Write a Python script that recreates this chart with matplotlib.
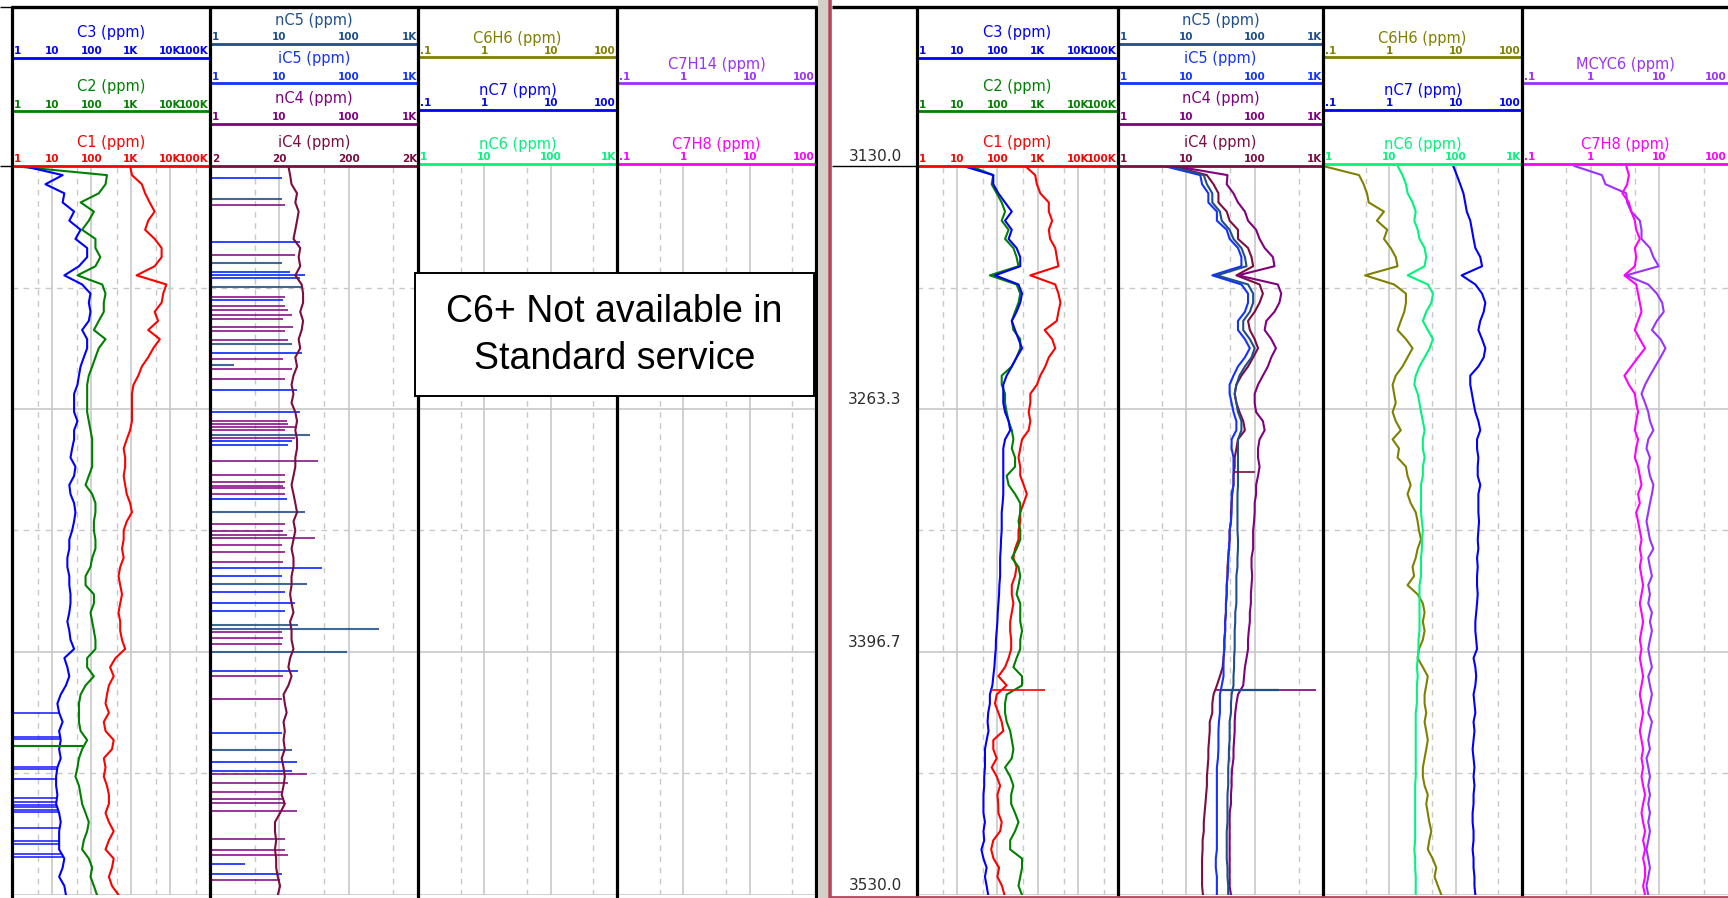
import numpy as np
import matplotlib
matplotlib.use("Agg")
import matplotlib.pyplot as plt
from matplotlib.lines import Line2D
from matplotlib.patches import Rectangle

# depth of every curve sample (m), one reading every 5 m
DEPTH = np.arange(3130.0, 3530.1, 5.0)
DEPTH_LABELS = [3130.0, 3263.3, 3396.7, 3530.0]

# ---------------- standard service log (left) ----------------
L_C1 = [960, 1070, 1900, 2300, 3000, 4000, 2750, 2300, 4000, 6000,
        6000, 4000, 1400, 7900, 6600, 6000, 4000, 4900, 2750, 5400,
        3700, 2750, 1900, 1550, 1170, 1070, 1070, 1070, 1070, 960,
        790, 660, 720, 720, 660, 720, 790, 960, 1070, 790,
        660, 660, 600, 660, 540, 490, 540, 600, 540, 490,
        540, 540, 600, 720, 410, 300, 370, 280, 250, 230,
        280, 208, 230, 370, 335, 208, 230, 208, 250, 280,
        280, 230, 280, 370, 280, 230, 370, 335, 280, 335,
        490]
L_C2 = [1, 250, 230, 155, 54, 117, 87, 59, 128, 128,
        170, 128, 45, 190, 230, 208, 208, 155, 117, 230,
        155, 128, 106, 87, 79, 79, 79, 79, 87, 96,
        106, 106, 106, 106, 87, 72, 106, 128, 128, 117,
        117, 128, 128, 106, 96, 72, 72, 117, 117, 96,
        106, 117, 128, 128, 79, 79, 117, 72, 54, 49,
        49, 49, 54, 79, 59, 49, 45, 40, 49, 54,
        59, 72, 87, 79, 65, 59, 87, 106, 96, 117,
        140]
L_C3 = [1.9, 19, 7, 21, 19, 37, 28, 54, 40, 79,
        79, 49, 21, 59, 96, 87, 96, 87, 59, 79,
        79, 65, 54, 49, 45, 37, 37, 37, 45, 37,
        37, 33, 30, 40, 37, 28, 30, 37, 40, 37,
        33, 28, 28, 25, 25, 28, 28, 30, 30, 28,
        25, 28, 30, 37, 21, 25, 28, 23, 17, 14,
        15.5, 19, 15.5, 17, 15.5, 17, 14, 13, 13, 14,
        13, 15.5, 17, 15.5, 15.5, 15.5, 21, 19, 15.5, 21,
        23]
L_IC4 = [27, 28.6, 30, 36, 34, 38, 36, 34, 32, 40,
         38, 40, 34, 42, 44, 44, 40, 44, 42, 38,
         40, 34, 36, 32, 30, 32, 30, 34, 36, 34,
         36, 36, 34, 34, 32, 30, 32, 34, 36, 32,
         34, 32, 30, 32, 32, 30, 30, 28.6, 30, 32,
         28.6, 30, 30, 32, 28.6, 27, 30, 27, 23, 24,
         25.5, 23, 24, 23, 24, 21.6, 23, 24, 23, 21.6,
         24, 20.5, 17.3, 17.3, 18, 17.3, 18, 18, 19, 20.5,
         19]

# C3 / C2 sample dropouts (readings below 1 ppm)
L_C3_DROP = [3430.3, 3443.5, 3444.6, 3459.6, 3460.9, 3466.5, 3476.9, 3479.1,
             3480.6, 3481.9, 3483.3, 3484.6, 3493.4, 3500.2, 3502.0, 3507.5, 3509.0]
L_C2_DROP = [3448.1]

# nC4 / iC5 / nC5 only show isolated readings in the standard service
L_NC4_SPIKE_D = [3151.4, 3178.7, 3201.7, 3206.6, 3208.9, 3211.5, 3214.1, 3218.5,
                 3220.8, 3225.4, 3235.7, 3241.4, 3246.8, 3269.8, 3271.8, 3273.4,
                 3274.9, 3279.3, 3291.7, 3299.7, 3303.3, 3305.6, 3306.9, 3310.0,
                 3326.5, 3330.1, 3332.7, 3334.3, 3337.9, 3342.0, 3347.2, 3385.8,
                 3388.9, 3392.5, 3410.1, 3422.5, 3463.7, 3468.4, 3473.5, 3477.1,
                 3479.7, 3483.8, 3499.3, 3505.5, 3508.1, 3521.5]
L_NC4_SPIKE_PPM = [12.1, 16.9, 12.1, 12.1, 13.5, 15.1, 11.4, 16,
                   12.1, 13.5, 11.4, 15.1, 12.1, 12.8, 13.5, 16.9,
                   12.1, 16.9, 36, 12.1, 12.1, 11.4, 12.1, 12.1,
                   12.1, 11.4, 12.8, 32.9, 10.8, 12.1, 11.4, 10.8,
                   11.4, 10.8, 11.4, 10.8, 24.9, 13.5, 11.4, 11.4,
                   12.1, 17.8, 12.1, 12.1, 13.5, 10.2]
L_IC5_SPIKE_D = [3136.7, 3171.8, 3188.3, 3189.6, 3191.4, 3203.5, 3232.4, 3253.0,
                 3265.1, 3281.1, 3283.2, 3312.6, 3350.8, 3354.9, 3363.7, 3369.6,
                 3374.0, 3407.2, 3441.3, 3457.0, 3462.2, 3513.2, 3518.4]
L_IC5_SPIKE_PPM = [10.8, 19.9, 14.3, 23.5, 19.9, 11.4, 21, 17.8,
                   19.9, 15.1, 13.5, 12.8, 41, 10.8, 12.1, 16.9,
                   12.1, 18.8, 10.8, 17.8, 15.1, 3.2, 10.8]
L_NC5_SPIKE_D = [3148.3, 3183.4, 3196.5, 3227.7, 3239.1, 3277.8, 3319.8, 3359.3,
                 3381.7, 3383.8, 3396.7, 3450.3]
L_NC5_SPIKE_PPM = [10.8, 10.8, 22.3, 15.1, 2.2, 27.8, 23.5, 24.9,
                   18.8, 272, 95, 15.1]

# ---------------- advanced service log (right) ----------------
R_C1 = [490, 870, 960, 1170, 1900, 1900, 2300, 1900, 2050, 2750,
        3000, 3300, 660, 2750, 3300, 3700, 3300, 3000, 1500, 2300,
        2750, 1900, 1550, 1170, 960, 660, 660, 600, 660, 600,
        410, 370, 335, 370, 370, 450, 540, 450, 370, 370,
        335, 335, 275, 250, 300, 275, 228, 228, 250, 228,
        208, 208, 220, 220, 190, 155, 106, 170, 96, 87,
        106, 128, 140, 79, 79, 96, 72, 96, 117, 100,
        105, 106, 128, 117, 79, 70, 80, 110, 100, 130,
        150]
R_C2 = [21, 79, 72, 96, 128, 155, 128, 190, 155, 250,
        300, 335, 65, 300, 370, 335, 275, 228, 250, 370,
        370, 300, 228, 128, 128, 155, 155, 170, 190, 228,
        250, 228, 275, 275, 170, 190, 275, 370, 370, 335,
        370, 370, 300, 228, 335, 370, 335, 300, 370, 370,
        370, 410, 370, 370, 300, 250, 410, 410, 170, 155,
        155, 170, 208, 228, 250, 228, 155, 208, 250, 220,
        220, 275, 335, 275, 208, 208, 410, 410, 370, 335,
        410]
R_C3 = [14, 79, 79, 106, 155, 228, 155, 228, 190, 300,
        370, 370, 87, 335, 410, 370, 300, 228, 275, 335,
        410, 300, 228, 170, 140, 140, 140, 155, 190, 208,
        155, 140, 140, 140, 140, 140, 140, 135, 128, 128,
        128, 123, 121, 117, 117, 117, 112, 110, 106, 102,
        100, 96, 92, 91, 87, 84, 79, 75, 65, 65,
        59, 57, 60, 54, 49, 49, 49, 47, 47, 45,
        45, 45, 49, 45, 47, 40, 45, 54, 49, 54,
        59]
R_IC4 = [6.2, 20, 25, 29.5, 29.5, 39, 43, 57, 57, 80,
         90, 95, 54, 118, 132, 118, 100, 80, 85, 100,
         112, 95, 80, 64, 54, 51, 54, 60, 68, 72,
         57, 54, 51, 51, 49, 49, 47, 46, 45, 45,
         43, 43, 42, 41, 40, 40, 39, 39, 38, 38,
         37, 37, 36, 36, 35, 34, 31, 28, 25, 24,
         24, 22, 22, 21.5, 21, 21, 20.5, 20, 20, 19.5,
         19, 18.5, 18, 18, 17.3, 17.3, 17, 17, 17, 17,
         17.5]
R_NC4 = [6.6, 40, 39, 49, 57, 72, 80, 105, 118, 140,
         185, 195, 57, 218, 245, 230, 195, 148, 140, 175,
         205, 175, 156, 132, 112, 100, 100, 105, 132, 140,
         118, 112, 112, 118, 112, 105, 105, 100, 100, 98,
         95, 95, 95, 90, 90, 92, 90, 88, 88, 85,
         85, 82, 80, 80, 76, 72, 70, 68, 57, 54,
         52, 51, 51, 50, 49, 49, 47, 46, 46, 45,
         45, 43, 43, 43, 43, 43, 43, 43, 43, 43,
         45]
R_IC5 = [4.7, 16, 17, 21, 21, 28, 28, 39, 43, 57,
         64, 64, 24, 64, 80, 80, 72, 57, 57, 72,
         85, 72, 57, 49, 43, 43, 46, 49, 54, 54,
         46, 46, 49, 49, 49, 49, 46, 46, 46, 45,
         43, 43, 42, 41, 41, 40, 39, 39, 38, 38,
         37, 37, 36, 36, 35, 35, 35, 33, 31, 31,
         31, 30, 29.5, 29.5, 29.5, 29, 28, 28, 28, 28,
         28, 28, 28, 28, 28, 28, 27, 27, 28, 28,
         28]
R_NC5 = [5.5, 18, 20, 24, 24, 31, 33, 43, 49, 64,
         72, 76, 28, 80, 95, 95, 85, 68, 68, 85,
         100, 90, 72, 60, 54, 51, 54, 57, 64, 64,
         57, 57, 57, 57, 57, 57, 56, 56, 56, 56,
         56, 57, 57, 56, 56, 54, 54, 54, 54, 52,
         52, 51, 51, 51, 50, 50, 49, 49, 46, 45,
         45, 43, 43, 43, 42, 42, 41, 41, 41, 40,
         40, 40, 40, 39, 39, 39, 39, 40, 40, 41,
         41]
R_C6H6 = [0.1, 0.35, 0.41, 0.46, 0.49, 0.83, 0.65, 0.93, 0.83, 1.05,
          1.25, 1.33, 0.43, 1.18, 1.78, 1.78, 1.68, 1.49, 1.33, 1.78,
          2.24, 1.88, 1.58, 1.25, 1.12, 1.18, 1.25, 1.12, 1.25, 1.49,
          1.12, 1.4, 1.33, 1.78, 1.88, 2.1, 1.88, 2.1, 2.5, 2.67,
          2.8, 3.0, 2.67, 2.5, 2.24, 2.36, 1.88, 2.67, 3.2, 3.4,
          3.2, 3.4, 3.2, 2.8, 2.67, 3.2, 3.8, 3.6, 3.4, 3.4,
          3.6, 3.4, 3.6, 3.8, 3.6, 3.4, 3.2, 3.2, 3.4, 3.8,
          3.6, 3.8, 4.0, 4.3, 4.0, 3.8, 4.5, 5.1, 4.8, 5.4,
          6.1]
R_NC6 = [13.3, 15.8, 17.8, 18.9, 22.4, 25, 23.8, 26.8, 28.5, 34,
         36, 34, 18.9, 38, 45.5, 43, 36, 32, 38, 45.5,
         40.5, 34, 28.5, 25, 23.8, 26.8, 28.5, 30, 32, 34,
         32, 32, 34, 32, 32, 30, 30, 30, 30, 31,
         32, 31, 31, 30, 30, 30, 28.5, 28.5, 28.5, 28.5,
         28.5, 28.5, 27.5, 27.5, 26.8, 26, 26.8, 26, 26, 26,
         25, 25, 25, 25, 25, 25, 25, 25, 24.5, 24.5,
         24.5, 24.5, 24.5, 24.5, 24.5, 23.8, 24.5, 24.5, 25, 25,
         25]
R_NC7 = [9.2, 10.4, 11.7, 13.1, 13.9, 14.7, 16.6, 17.6, 18.6, 19.8,
         23.5, 25, 12.3, 19.8, 25, 28, 26.5, 23.5, 22, 25,
         28, 26.5, 22, 16.6, 16.6, 17.6, 18.6, 19.8, 22, 23.5,
         21, 21, 22, 21.5, 21.5, 23.5, 22, 22, 22, 22.5,
         22, 21.5, 22, 21, 21.5, 21, 21, 21.5, 21, 20.4,
         19.8, 19.8, 20.4, 21, 18.6, 19.8, 20.4, 19.8, 18.6, 19.2,
         19.8, 18.6, 19.2, 18.6, 18, 18.6, 19.2, 18.6, 19.2, 18.6,
         18.6, 18, 18, 18.6, 18.6, 18, 18.6, 18.6, 19.2, 19.2,
         19.8]
R_MCYC6 = [0.58, 1.46, 1.64, 3.3, 3.4, 3.9, 5.2, 5.5, 5.5, 7.3,
           8.2, 9.8, 3.3, 6.9, 9.2, 11, 11.6, 9.2, 7.8, 10.4,
           12.3, 10.4, 8.7, 7.3, 6.2, 5.5, 6.2, 6.9, 7.3, 8.2,
           6.9, 6.5, 7.3, 6.9, 7.3, 8.2, 7.8, 7.3, 6.9, 6.5,
           6.9, 7.3, 8.2, 6.9, 7.3, 7.8, 6.9, 7.3, 6.9, 7.8,
           7.3, 7.8, 7.3, 6.9, 7.3, 7.8, 6.9, 7.3, 7.8, 7.3,
           6.9, 7.8, 7.3, 6.9, 7.3, 6.5, 6.9, 7.3, 6.9, 7.3,
           6.9, 7.3, 6.9, 7.3, 6.9, 6.5, 6.9, 7.3, 6.9, 6.5,
           6.9]
R_C7H8 = [3.3, 3.6, 3.4, 2.9, 3.6, 3.9, 4.4, 4.6, 5.2, 4.4,
          4.6, 4.4, 3.1, 4.6, 4.9, 5.2, 5.5, 4.9, 4.4, 5.2,
          6.2, 4.9, 3.9, 3.1, 3.6, 4.4, 4.6, 4.9, 4.6, 4.4,
          4.9, 4.6, 4.4, 4.9, 5.2, 5.5, 4.9, 5.2, 4.6, 4.9,
          5.2, 5.5, 5.2, 5.5, 5.2, 5.5, 5.8, 5.5, 5.2, 5.5,
          5.8, 5.5, 5.2, 5.5, 5.2, 5.5, 5.8, 5.5, 5.2, 5.5,
          5.8, 5.5, 5.2, 5.5, 5.8, 5.5, 5.8, 5.5, 5.8, 6.2,
          5.8, 5.5, 5.8, 6.2, 5.8, 6.2, 5.8, 6.2, 6.2, 5.8,
          6.2]

# single-sample kicks in the advanced log
R_KICK_DEPTH = 3417.5
R_KICK_C1 = 1550
R_KICK_NC4 = 780
R_KICK_NC5 = 230
R_IC4_KICK_DEPTH = 3297.9
R_IC4_KICK = 100

for series in (L_C1, L_C2, L_C3, L_IC4, R_C1, R_C2, R_C3, R_IC4, R_NC4, R_IC5,
               R_NC5, R_C6H6, R_NC6, R_NC7, R_MCYC6, R_C7H8):
    assert len(series) == len(DEPTH)

# colours of the gas species
COL = {
    "C1": "#ff0000", "C2": "#008000", "C3": "#0000ff",
    "iC4": "#7d0c3f", "nC4": "#800080", "iC5": "#1432ff", "nC5": "#1f4e8a",
    "C6H6": "#808000", "nC7": "#0000ff", "nC6": "#00f57a",
    "C7H14": "#9932ff", "MCYC6": "#9932ff", "C7H8": "#ff00ff",
}
GRID_C = "#c8c8c8"
GRID_SOLID = [3263.3, 3396.7, 3530.0]
GRID_DASH = [3196.7, 3330.0, 3463.3]

# ---------------- page layout (pixels) ----------------
W, H = 1728, 898
Y_TOP, Y_HEAD, Y_BOT = 7, 166, 895
D_MIN, D_MAX = 3130.0, 3530.0

fig = plt.figure(figsize=(W / 100, H / 100), dpi=100)
fig.patch.set_facecolor("white")


def fx(x):
    return x / W


def fy(y):
    return 1 - y / H


def hline(x0, x1, y, color, lw, z=2):
    fig.add_artist(Line2D([fx(x0), fx(x1)], [fy(y), fy(y)], color=color, lw=lw,
                          solid_capstyle="butt", zorder=z))


def vline(x, y0, y1, color, lw, z=2):
    fig.add_artist(Line2D([fx(x), fx(x)], [fy(y0), fy(y1)], color=color, lw=lw,
                          solid_capstyle="butt", zorder=z))


def data_axes(x0, x1, lo, hi):
    ax = fig.add_axes([fx(x0), fy(Y_BOT), (x1 - x0) / W, (Y_BOT - Y_HEAD) / H])
    ax.set_xscale("log")
    ax.set_xlim(lo, hi)
    ax.set_ylim(D_MAX, D_MIN)
    ax.axis("off")
    return ax


def draw_grid(ax, lo, hi):
    n = int(round(np.log10(hi / lo)))
    for k in range(n):
        if k:
            ax.axvline(lo * 10 ** k, color=GRID_C, lw=1.2, zorder=0)
        ax.axvline(lo * 10 ** (k + 0.645), color=GRID_C, lw=1.0, ls=(0, (4, 4)), zorder=0)
    for d in GRID_SOLID:
        ax.axhline(d, color=GRID_C, lw=1.2, zorder=0)
    for d in GRID_DASH:
        ax.axhline(d, color=GRID_C, lw=1.0, ls=(0, (4, 4)), zorder=0)


def fmt(v):
    if v >= 1000:
        return f"{v / 1000:g}K"
    if v < 1:
        return f"{v:g}".lstrip("0")
    return f"{v:g}"


def header_scale(x0, x1, name, lo, hi, y_line, y_title):
    color = COL[name]
    hline(x0, x1, y_line, color, 2.0)
    fig.text(fx((x0 + x1) / 2), fy(y_title), f"{name} (ppm)", color=color,
             fontsize=10.5, ha="center", va="center")
    n = int(round(np.log10(hi / lo)))
    for k in range(n + 1):
        x = x0 + (x1 - x0) * k / n
        ha = "center"
        if k == 0:
            x, ha = x + 2, "left"
        elif k == n:
            x, ha = x - 1, "right"
        fig.text(fx(x), fy(y_line - 1.5), fmt(lo * 10 ** k), color=color, fontsize=7.5,
                 fontweight="bold", ha=ha, va="bottom")


# track extents
L_TRACKS = [(12, 210), (210, 418), (418, 617), (617, 816)]
R_DEPTH = (832, 917)
R_TRACKS = [(917, 1118), (1118, 1323), (1323, 1522), (1522, 1728)]

# ---------------- headers ----------------
for tracks, t4_name, ic4_lo in ((L_TRACKS, "C7H14", 2), (R_TRACKS, "MCYC6", 1)):
    (a0, a1), (b0, b1), (c0, c1), (e0, e1) = tracks
    header_scale(a0, a1, "C3", 1, 1e5, 58, 33)
    header_scale(a0, a1, "C2", 1, 1e5, 111, 87)
    header_scale(a0, a1, "C1", 1, 1e5, 166, 142)
    header_scale(b0, b1, "nC5", 1, 1e3, 44, 20)
    header_scale(b0, b1, "iC5", 1, 1e3, 83, 58)
    header_scale(b0, b1, "nC4", 1, 1e3, 124, 99)
    header_scale(b0, b1, "iC4", ic4_lo, ic4_lo * 1e3, 166, 142)
    header_scale(c0, c1, "C6H6", 0.1, 100, 57, 38)
    header_scale(c0, c1, "nC7", 0.1, 100, 110, 90)
    header_scale(c0, c1, "nC6", 1, 1e3, 164, 144)
    header_scale(e0, e1, t4_name, 0.1, 100, 83, 64)
    header_scale(e0, e1, "C7H8", 0.1, 100, 164, 144)

LW = 1.5

# ---------------- left log curves ----------------
ax = data_axes(*L_TRACKS[0], 1, 1e5)
draw_grid(ax, 1, 1e5)
ax.plot(L_C1, DEPTH, color=COL["C1"], lw=LW)
ax.plot(L_C2, DEPTH, color=COL["C2"], lw=LW)
ax.plot(L_C3, DEPTH, color=COL["C3"], lw=LW)
ax.hlines(L_C3_DROP, 1, np.interp(L_C3_DROP, DEPTH, L_C3), color=COL["C3"], lw=1.2, alpha=0.85)
ax.hlines(L_C2_DROP, 1, np.interp(L_C2_DROP, DEPTH, L_C2), color=COL["C2"], lw=1.5)

ax = data_axes(*L_TRACKS[1], 1, 1e3)
draw_grid(ax, 1, 1e3)
ax.hlines(L_NC4_SPIKE_D, 1, L_NC4_SPIKE_PPM, color=COL["nC4"], lw=1.3, alpha=0.85)
ax.hlines(L_IC5_SPIKE_D, 1, L_IC5_SPIKE_PPM, color=COL["iC5"], lw=1.4, alpha=0.9)
ax.hlines(L_NC5_SPIKE_D, 1, L_NC5_SPIKE_PPM, color=COL["nC5"], lw=1.5, alpha=0.85)
ax = data_axes(*L_TRACKS[1], 2, 2e3)
ax.plot(L_IC4, DEPTH, color=COL["iC4"], lw=LW)

for x0, x1 in L_TRACKS[2:]:
    draw_grid(data_axes(x0, x1, 0.1, 100), 0.1, 100)

# ---------------- right log curves ----------------
ax = data_axes(*R_TRACKS[0], 1, 1e5)
draw_grid(ax, 1, 1e5)
ax.plot(R_C1, DEPTH, color=COL["C1"], lw=LW)
ax.plot(R_C2, DEPTH, color=COL["C2"], lw=LW)
ax.plot(R_C3, DEPTH, color=COL["C3"], lw=LW)
ax.hlines(R_KICK_DEPTH, np.interp(R_KICK_DEPTH, DEPTH, R_C3), R_KICK_C1, color=COL["C1"], lw=1.2)

ax = data_axes(*R_TRACKS[1], 1, 1e3)
draw_grid(ax, 1, 1e3)
ax.plot(R_IC4, DEPTH, color=COL["iC4"], lw=LW)
ax.plot(R_NC4, DEPTH, color=COL["nC4"], lw=LW)
ax.plot(R_IC5, DEPTH, color=COL["iC5"], lw=LW)
ax.plot(R_NC5, DEPTH, color=COL["nC5"], lw=LW)
ax.hlines(R_KICK_DEPTH, np.interp(R_KICK_DEPTH, DEPTH, R_IC4), R_KICK_NC4, color=COL["nC4"], lw=1.2)
ax.hlines(R_KICK_DEPTH, np.interp(R_KICK_DEPTH, DEPTH, R_IC5), R_KICK_NC5, color=COL["nC5"], lw=1.6)
ax.hlines(R_IC4_KICK_DEPTH, np.interp(R_IC4_KICK_DEPTH, DEPTH, R_IC4), R_IC4_KICK,
          color=COL["iC4"], lw=1.2)

ax = data_axes(*R_TRACKS[2], 0.1, 100)
draw_grid(ax, 0.1, 100)
ax.plot(R_C6H6, DEPTH, color=COL["C6H6"], lw=LW)
ax.plot(R_NC7, DEPTH, color=COL["nC7"], lw=LW)
ax = data_axes(*R_TRACKS[2], 1, 1e3)
ax.plot(R_NC6, DEPTH, color=COL["nC6"], lw=LW)

ax = data_axes(*R_TRACKS[3], 0.1, 100)
draw_grid(ax, 0.1, 100)
ax.plot(R_MCYC6, DEPTH, color=COL["MCYC6"], lw=LW)
ax.plot(R_C7H8, DEPTH, color=COL["C7H8"], lw=LW)

# depth column
ax = data_axes(*R_DEPTH, 1, 10)
ax.set_xscale("linear")
ax.set_xlim(0, 1)
for d in DEPTH_LABELS:
    ax.annotate(f"{d:.1f}", (0.82, d), xytext=(0, 1.5), textcoords="offset points",
                ha="right", va="bottom", fontsize=11, color="#2b2b2b",
                annotation_clip=False)
hline(R_DEPTH[0], R_DEPTH[1], Y_HEAD, "black", 1.0)

# ---------------- frames ----------------
hline(11, 817, Y_TOP, "black", 2.4)
hline(832, 1728, Y_TOP, "black", 2.4)
for x, _ in L_TRACKS:
    vline(x, Y_TOP - 1, H, "black", 2.3)
vline(816, Y_TOP - 1, H, "black", 2.3)
for x, _ in R_TRACKS:
    vline(x, Y_TOP - 1, H, "black", 2.3)
hline(0, 11, Y_TOP, "black", 1.0)
hline(0, 11, Y_HEAD, "black", 1.0)

# split between the two logs
fig.add_artist(Rectangle((fx(818), 0), 10 / W, 1, transform=fig.transFigure,
                         facecolor="#d4d0c8", edgecolor="none", zorder=3))
vline(830, 0, H, "#b5475d", 2.6, z=3)
hline(830, 1728, 896.5, "#b5475d", 2.0, z=3)

# note over the empty C6+ tracks of the standard log
fig.add_artist(Rectangle((fx(415), fy(396)), (814 - 415) / W, (396 - 273) / H,
                         transform=fig.transFigure, facecolor="white",
                         edgecolor="black", lw=1.4, zorder=5))
NOTE_FONT = ["Liberation Sans Narrow", "Liberation Sans", "DejaVu Sans"]
fig.text(fx(614.5), fy(312), "C6+ Not available in", family=NOTE_FONT,
         fontsize=27, ha="center", va="center", zorder=6)
fig.text(fx(614.5), fy(359), "Standard service", family=NOTE_FONT,
         fontsize=27, ha="center", va="center", zorder=6)

fig.savefig("out.png", dpi=100, facecolor="white")
